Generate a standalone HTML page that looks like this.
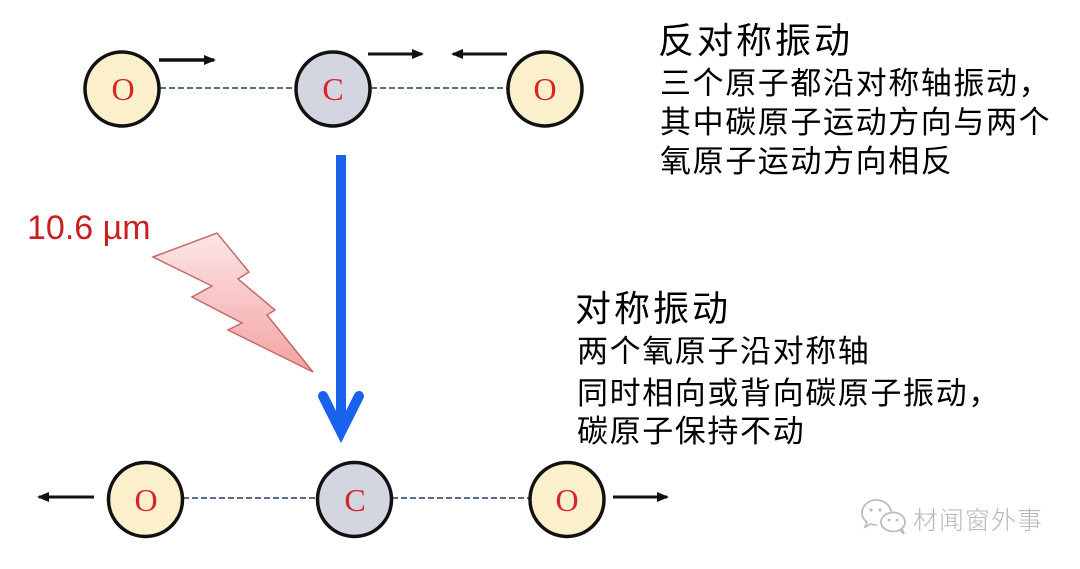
<!DOCTYPE html>
<html>
<head>
<meta charset="utf-8">
<style>
  html,body{margin:0;padding:0;background:#fff;}
  body{width:1080px;height:569px;position:relative;overflow:hidden;}
  svg{position:absolute;left:0;top:0;}
  .t{position:absolute;white-space:nowrap;color:#000;font-family:"Liberation Sans","Noto Sans CJK SC",sans-serif;}
  .h{font-size:36px;line-height:36px;letter-spacing:3px;}
  .b{font-size:31px;line-height:31px;letter-spacing:1.6px;}
  .wm{position:absolute;white-space:nowrap;color:#b8b8b8;font-family:"Liberation Sans","Noto Sans CJK SC",sans-serif;font-size:25px;line-height:25px;letter-spacing:1px;font-weight:300;}
  .lbl{position:absolute;white-space:nowrap;color:#c8201e;font-family:"Liberation Sans",sans-serif;font-size:34px;line-height:34px;}
</style>
</head>
<body>
<svg width="1080" height="569" viewBox="0 0 1080 569" xmlns="http://www.w3.org/2000/svg">
  <defs>
    <linearGradient id="bolt" x1="0" y1="0" x2="0" y2="1">
      <stop offset="0" stop-color="#fde6e6"/>
      <stop offset="1" stop-color="#f3a2a2"/>
    </linearGradient>
    <marker id="ah" markerWidth="12" markerHeight="12" refX="10" refY="6" orient="auto" markerUnits="userSpaceOnUse">
      <path d="M0,1 L12,6 L0,11 Z" fill="#111"/>
    </marker>
  </defs>

  <!-- top row dashed bonds -->
  <line x1="160" y1="88" x2="295" y2="88" stroke="#5b6d8f" stroke-width="2" stroke-dasharray="6,3"/>
  <line x1="371" y1="88" x2="507" y2="88" stroke="#5b6d8f" stroke-width="2" stroke-dasharray="6,3"/>

  <!-- top row atoms -->
  <circle cx="122" cy="89" r="37" fill="#fbf0cb" stroke="#111" stroke-width="3.5"/>
  <circle cx="333" cy="89" r="37" fill="#d3d6e0" stroke="#111" stroke-width="3.5"/>
  <circle cx="545" cy="89" r="37" fill="#fbf0cb" stroke="#111" stroke-width="3.5"/>
  <text x="123" y="100" text-anchor="middle" font-family="Liberation Serif, serif" font-size="32" fill="#d6262a">O</text>
  <text x="333" y="100" text-anchor="middle" font-family="Liberation Serif, serif" font-size="32" fill="#d6262a">C</text>
  <text x="545" y="100" text-anchor="middle" font-family="Liberation Serif, serif" font-size="32" fill="#d6262a">O</text>

  <!-- top arrows -->
  <line x1="159" y1="60" x2="214" y2="60" stroke="#111" stroke-width="3.5" marker-end="url(#ah)"/>
  <line x1="368" y1="54" x2="422" y2="54" stroke="#111" stroke-width="3" marker-end="url(#ah)"/>
  <line x1="507" y1="54" x2="453" y2="54" stroke="#111" stroke-width="3" marker-end="url(#ah)"/>

  <!-- blue arrow -->
  <line x1="341" y1="155" x2="341" y2="430" stroke="#1a62ee" stroke-width="10"/>
  <polyline points="323,396 341,432 359,396" fill="none" stroke="#1a62ee" stroke-width="10" stroke-linecap="round" stroke-linejoin="miter"/>

  <!-- lightning bolt -->
  <polygon points="153,257 217,233 249,272 238,279 275,310 267,315 313,372 228,330 242,323 192,297 212,286"
           fill="url(#bolt)" stroke="#c46a6a" stroke-width="1.5" stroke-linejoin="miter"/>

  <!-- bottom row dashed bonds -->
  <line x1="183" y1="498" x2="317" y2="498" stroke="#5b6d8f" stroke-width="2" stroke-dasharray="6,3"/>
  <line x1="392" y1="498" x2="529" y2="498" stroke="#5b6d8f" stroke-width="2" stroke-dasharray="6,3"/>

  <!-- bottom row atoms -->
  <circle cx="145.5" cy="499.5" r="37" fill="#fbf0cb" stroke="#111" stroke-width="3.5"/>
  <circle cx="354.5" cy="499.5" r="37" fill="#d3d6e0" stroke="#111" stroke-width="3.5"/>
  <circle cx="567" cy="499.5" r="37" fill="#fbf0cb" stroke="#111" stroke-width="3.5"/>
  <text x="146" y="511" text-anchor="middle" font-family="Liberation Serif, serif" font-size="32" fill="#d6262a">O</text>
  <text x="355" y="511" text-anchor="middle" font-family="Liberation Serif, serif" font-size="32" fill="#d6262a">C</text>
  <text x="567" y="511" text-anchor="middle" font-family="Liberation Serif, serif" font-size="32" fill="#d6262a">O</text>

  <!-- bottom arrows -->
  <line x1="94" y1="497" x2="39" y2="497" stroke="#111" stroke-width="3" marker-end="url(#ah)"/>
  <line x1="613" y1="497" x2="667" y2="497" stroke="#111" stroke-width="3" marker-end="url(#ah)"/>

  <!-- watermark icon -->
  <g fill="none" stroke="#bdbdbd" stroke-width="1.8">
    <path d="M891,512 C890,504 883,500 876,500 C868,500 862,506 862,513 C862,517 864,520 867,522 L865,527 L871,524 C873,525 875,525 877,525"/>
    <ellipse cx="893" cy="522" rx="12" ry="9.5" fill="#fff"/>
    <path d="M900,530 L904,534 L902,529"/>
  </g>
  <g fill="#bdbdbd">
    <circle cx="871" cy="510" r="1.6"/>
    <circle cx="880" cy="510" r="1.6"/>
    <circle cx="889" cy="520" r="1.4"/>
    <circle cx="897" cy="520" r="1.4"/>
  </g>
</svg>

<div class="t h" style="left:658px;top:23px;">反对称振动</div>
<div class="t b" style="left:660px;top:68px;">三个原子都沿对称轴振动，</div>
<div class="t b" style="left:660px;top:107px;">其中碳原子运动方向与两个</div>
<div class="t b" style="left:660px;top:146px;">氧原子运动方向相反</div>

<div class="t h" style="left:575px;top:291px;">对称振动</div>
<div class="t b" style="left:577px;top:336px;">两个氧原子沿对称轴</div>
<div class="t b" style="left:577px;top:378px;">同时相向或背向碳原子振动，</div>
<div class="t b" style="left:577px;top:416px;">碳原子保持不动</div>

<div class="lbl" style="left:27px;top:211px;">10.6 µm</div>

<div class="wm" style="left:913px;top:509px;">材闻窗外事</div>
</body>
</html>
